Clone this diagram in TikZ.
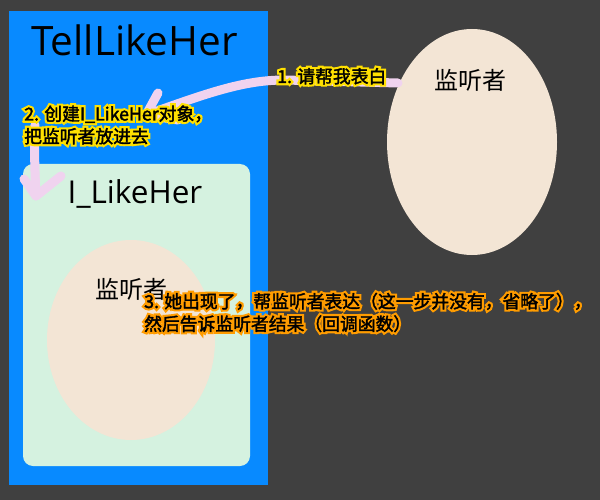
\documentclass[tikz,border=0pt]{standalone}
\usepackage{fontspec}
\setmainfont{Noto Sans CJK SC}
\newfontfamily\latinf{Open Sans}
\newfontfamily\glowf[FakeBold=26]{Noto Sans CJK SC}
\newfontfamily\lblf[FakeBold=2]{Noto Sans CJK SC}
\usetikzlibrary{calc,shapes.geometric}
\definecolor{bgc}{HTML}{404040}
\definecolor{bluec}{HTML}{088AFF}
\definecolor{greenc}{HTML}{D5F2E0}
\definecolor{eggc}{HTML}{F3E5D5}
\definecolor{pinkc}{HTML}{F0D3EF}
\definecolor{glowy}{HTML}{FFE000}
\definecolor{glowo}{HTML}{FF9C00}
\tikzset{
  pinkline/.style={draw=pinkc, line width=9pt, line cap=round, line join=round},
  lbl/.style={inner sep=0pt, align=left, font=\lblf\fontsize{17.8}{22.5}\selectfont, text=black},
  glowlbl/.style={inner sep=0pt, align=left, font=\glowf\fontsize{17.8}{22.5}\selectfont},
  title/.style={inner sep=0pt, text=black},
  egg/.style={ellipse, fill=eggc, draw=none, inner sep=0pt},
}
\newcommand\glowlabel[5]{% name, position, anchor, color, text
  \node[glowlbl, anchor=#3, text=#4] at (#2) {#5};
  \node[lbl, anchor=#3] (#1) at (#2) {#5};
}
\begin{document}
\begin{tikzpicture}[x=1pt,y=-1pt]
\fill[bgc] (0,0) rectangle (600,500);
\useasboundingbox (0,0) rectangle (600,500);
% outer box
\node[fill=bluec, inner sep=0pt, minimum width=259pt, minimum height=474pt] (outer) at (138.5,248) {};
\node[title, anchor=base, font=\latinf\fontsize{40.5}{42}\selectfont] (tlh) at (134.5,56) {TellLikeHer};
% inner box
\node[fill=greenc, rounded corners=10pt, inner sep=0pt, minimum width=227pt, minimum height=302pt] (inner) at (136.5,315) {};
\node[title, anchor=base, font=\latinf\fontsize{31.5}{33}\selectfont] (ilh) at (135,204) {I\_LikeHer};
% ellipses
\node[egg, minimum width=170pt, minimum height=226pt] (lis) at (472,142) {};
\node[title, anchor=base, font=\fontsize{24}{26}\selectfont] (listxt) at (470,90) {监听者};
\node[egg, minimum width=168pt, minimum height=200pt] (lisin) at (131,340) {};
\node[title, anchor=base, font=\fontsize{24}{26}\selectfont] (listxtin) at (131,298) {监听者};
% arrow 1
\coordinate (a1s) at (398,83);
\coordinate (a1t) at (146,115);
\coordinate (a1u) at (158,93);
\coordinate (a1l) at (178,120);
\draw[pinkline] (a1s) -- (285,80) .. controls (245,80) and (210,92) .. (a1t);
\draw[pinkline] (a1u) -- (a1t) -- (a1l);
% arrow 2
\coordinate (a2s) at (35,125);
\coordinate (a2t) at (36,196);
\coordinate (a2l) at (24,179);
\coordinate (a2r) at (61,176);
\draw[pinkline] (a2s) .. controls (34,150) and (35,175) .. (a2t);
\draw[pinkline] (a2l) -- (a2t) -- (a2r);
% labels
\coordinate (p1) at (277,83);
\glowlabel{l1}{p1}{base west}{glowy}{1. 请帮我表白}
\coordinate (p2) at (24,143);
\glowlabel{l2}{p2}{base west}{glowy}{2. 创建I\_LikeHer对象，\\把监听者放进去}
\coordinate (p3) at (144,330.5);
\glowlabel{l3}{p3}{base west}{glowo}{3. 她出现了，帮监听者表达（这一步并没有，省略了），\\然后告诉监听者结果（回调函数）}
\end{tikzpicture}
\end{document}
